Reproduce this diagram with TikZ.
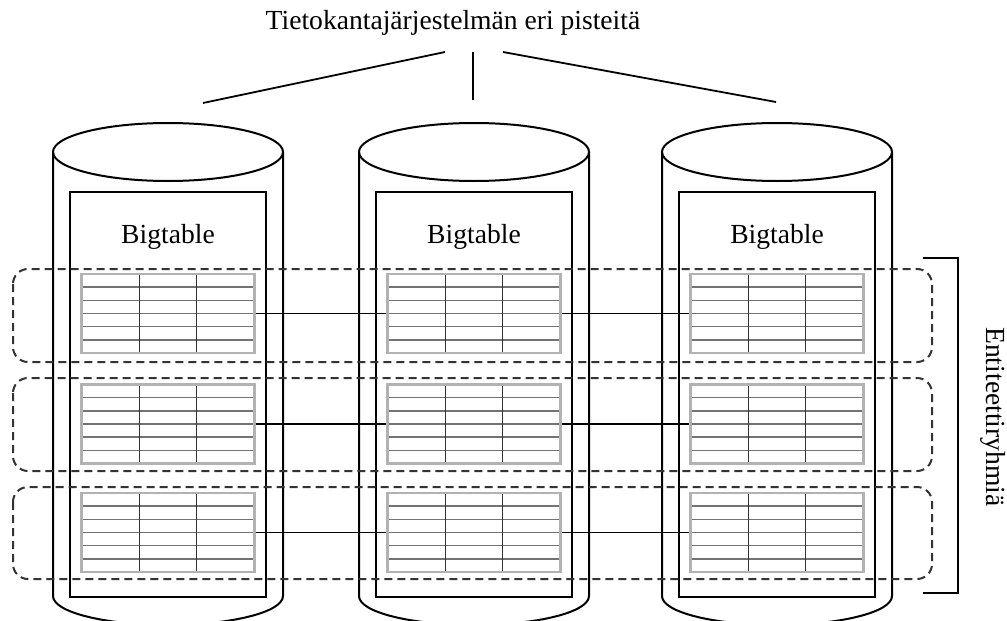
\documentclass[tikz,border=0pt]{standalone}
\usepackage{fontspec}
\setmainfont{Liberation Serif}
\usetikzlibrary{positioning}

\tikzset{
  txt/.style={font=\fontsize{13.8}{16}\selectfont, inner sep=0pt},
  wall/.style={line width=1pt},
  link/.style={line width=0.9pt},
  group/.style={line width=1pt, black!80, dash pattern=on 4pt off 2.5pt, rounded corners=7.5pt},
  tbl/.style={draw=gray!60, line width=1.2pt, minimum width=86.5pt, minimum height=39.5pt, inner sep=0pt,
    path picture={
      \foreach \i in {1,...,5}
        \draw[black!55, line width=0.8pt] ([yshift=-\i*6.583pt]path picture bounding box.north west) -- ([yshift=-\i*6.583pt]path picture bounding box.north east);
      \foreach \j in {1,2}
        \draw[black!80, line width=0.6pt] ([xshift=\j*28.83pt]path picture bounding box.north west) -- ([xshift=\j*28.83pt]path picture bounding box.south west);
    }},
}

\begin{document}
\begin{tikzpicture}[x=0.5pt,y=-0.5pt]
\clip (0,0) rectangle (1007,621);

% title and the lines down to the sites
\node[txt] (title) at (453,23) {Tietokantajärjestelmän eri pisteitä};
\coordinate (a1) at (445,52);
\coordinate (a2) at (473,52);
\coordinate (a3) at (503,52);
\coordinate (b1) at (203,103);
\coordinate (b2) at (473,100);
\coordinate (b3) at (776,102);
\draw[link] (a1) -- (b1);
\draw[link] (a2) -- (b2);
\draw[link] (a3) -- (b3);

% the three sites
\foreach \cx/\n in {168/1,474/2,777/3} {
  \draw[wall] (\cx,152) ellipse [x radius=115, y radius=29];
  \draw[wall] (\cx-115,152) -- (\cx-115,596) arc [start angle=180, end angle=0, x radius=115, y radius=29] -- (\cx+115,152);
  \draw[wall] (\cx-98,192) rectangle (\cx+98,597);
  \node[txt] (bt\n) at (\cx,237) {Bigtable};
  \node[tbl] (t\n1) at (\cx,313.5) {};
  \node[tbl] (t\n2) at (\cx,424) {};
  \node[tbl] (t\n3) at (\cx,532.5) {};
}

% table links
\foreach \r in {1,2,3} {
  \draw[link] (t1\r.east) -- (t2\r.west);
  \draw[link] (t2\r.east) -- (t3\r.west);
}

% entity groups
\draw[group] (13,269) rectangle (932,362);
\draw[group] (13,378) rectangle (932,471);
\draw[group] (13,487) rectangle (932,579);

\draw[link] (923,258) -- (958,258) -- (958,593) -- (923,593);
\node[txt, rotate=-90] (groups) at (993,417) {Entiteettiryhmiä};
\end{tikzpicture}
\end{document}
